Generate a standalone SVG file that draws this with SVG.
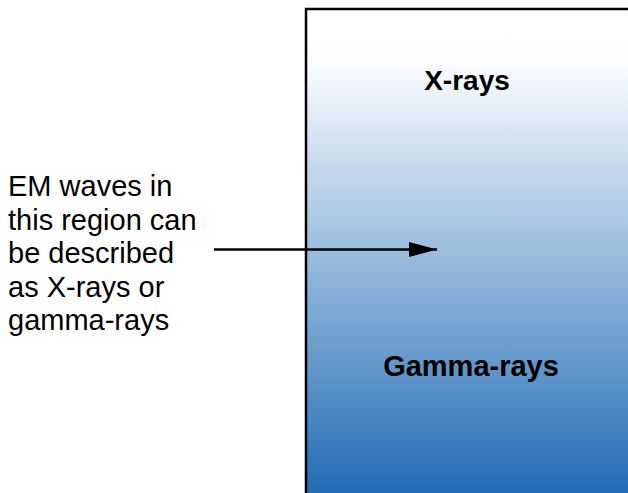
<svg xmlns="http://www.w3.org/2000/svg" width="628" height="493" viewBox="0 0 628 493">
  <defs>
    <linearGradient id="grad" x1="0" y1="0" x2="0" y2="1">
      <stop offset="0" stop-color="#ffffff"/>
      <stop offset="0.1" stop-color="#fdfeff"/>
      <stop offset="1" stop-color="#1a67b2"/>
    </linearGradient>
    <marker id="arrow" markerWidth="28" markerHeight="15" refX="28" refY="7.5" orient="auto" markerUnits="userSpaceOnUse">
      <path d="M0,0 L28,7.5 L0,15 Z" fill="#000"/>
    </marker>
  </defs>
  <style>
    .lbl { font-family: "Liberation Sans", Arial, sans-serif; font-size: 29px; fill: #000; }
    .band { font-family: "Liberation Sans", Arial, sans-serif; font-weight: bold; fill: #000; text-anchor: middle; }
  </style>
  <rect width="628" height="493" fill="#ffffff"/>
  <g id="spectrum">
    <rect x="306" y="9" width="340" height="500" fill="url(#grad)" stroke="#000" stroke-width="2.5"/>
    <text class="band" x="467" y="90" font-size="28">X-rays</text>
    <text class="band" x="471" y="376" font-size="29">Gamma-rays</text>
  </g>
  <g id="note">
    <text class="lbl" x="8" y="196">EM waves in</text>
    <text class="lbl" x="8" y="229.5">this region can</text>
    <text class="lbl" x="8" y="263">be described</text>
    <text class="lbl" x="8" y="296.5">as X-rays or</text>
    <text class="lbl" x="8" y="330">gamma-rays</text>
  </g>
  <g id="connectors">
    <line x1="214" y1="249.5" x2="437" y2="249.5" stroke="#000" stroke-width="2.5" marker-end="url(#arrow)"/>
  </g>
</svg>
